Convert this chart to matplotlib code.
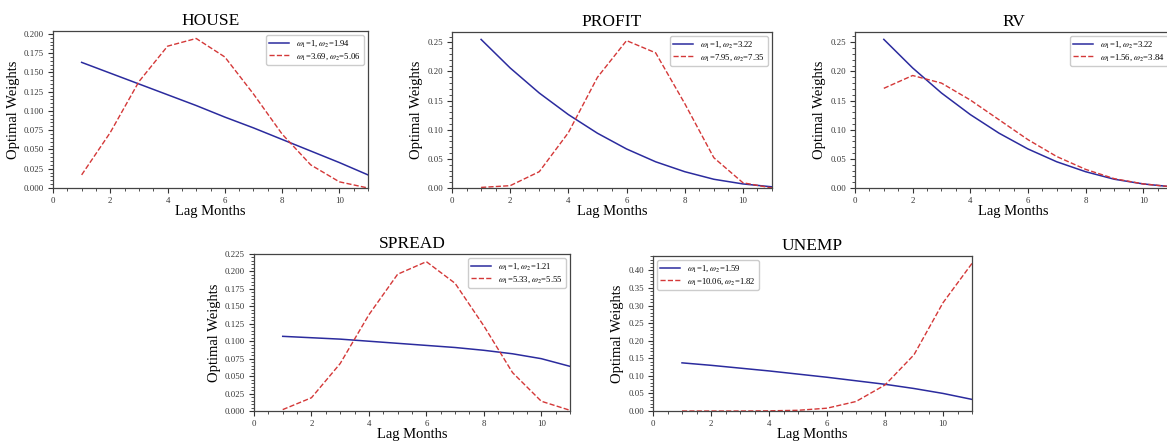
import numpy as np
import matplotlib
matplotlib.use("Agg")
import matplotlib.pyplot as plt
from matplotlib.ticker import AutoMinorLocator, MultipleLocator

plt.rcParams['font.family'] = ['Liberation Serif', 'DejaVu Serif']
plt.rcParams['mathtext.fontset'] = 'stix'

lags = [1, 2, 3, 4, 5, 6, 7, 8, 9, 10, 11]

titles = ["HOUSE", "PROFIT", "RV", "SPREAD", "UNEMP"]

house_restr = [0.163, 0.149, 0.135, 0.121, 0.107, 0.092, 0.078, 0.063, 0.048, 0.033, 0.017]
house_free = [0.017, 0.072, 0.138, 0.184, 0.194, 0.170, 0.122, 0.070, 0.030, 0.008, 0.000]

profit_restr = [0.255, 0.206, 0.163, 0.126, 0.094, 0.067, 0.045, 0.028, 0.015, 0.007, 0.002]
profit_free = [0.001, 0.004, 0.028, 0.095, 0.190, 0.253, 0.232, 0.145, 0.052, 0.009, 0.000]

rv_restr = [0.255, 0.206, 0.163, 0.126, 0.094, 0.067, 0.045, 0.028, 0.015, 0.007, 0.002]
rv_free = [0.171, 0.193, 0.180, 0.151, 0.117, 0.083, 0.054, 0.032, 0.016, 0.007, 0.002]

spread_restr = [0.107, 0.105, 0.103, 0.100, 0.097, 0.094, 0.091, 0.087, 0.082, 0.075, 0.064]
spread_free = [0.002, 0.019, 0.068, 0.138, 0.196, 0.214, 0.183, 0.122, 0.055, 0.014, 0.001]

unemp_restr = [0.137, 0.130, 0.122, 0.114, 0.105, 0.096, 0.086, 0.076, 0.064, 0.050, 0.033]
unemp_free = [0.000, 0.000, 0.000, 0.0005, 0.002, 0.008, 0.027, 0.074, 0.160, 0.308, 0.420]

labels_restr = [r"$\omega_1$=1, $\omega_2$=1.94", r"$\omega_1$=1, $\omega_2$=3.22",
                r"$\omega_1$=1, $\omega_2$=3.22", r"$\omega_1$=1, $\omega_2$=1.21",
                r"$\omega_1$=1, $\omega_2$=1.59"]
labels_free = [r"$\omega_1$=3.69, $\omega_2$=5.06", r"$\omega_1$=7.95, $\omega_2$=7.35",
               r"$\omega_1$=1.56, $\omega_2$=3.84", r"$\omega_1$=5.33, $\omega_2$=5.55",
               r"$\omega_1$=10.06, $\omega_2$=1.82"]

restr = [house_restr, profit_restr, rv_restr, spread_restr, unemp_restr]
free = [house_free, profit_free, rv_free, spread_free, unemp_free]
legend_loc = ["upper right", "upper right", "upper right", "upper right", "upper left"]
ytop = [None, None, None, 0.225, None]
ystep = [0.025, 0.05, 0.05, 0.025, 0.05]

W, H = 1167, 441
# axes boxes in pixels: left, top, right, bottom
boxes = [(53, 31, 368, 188), (452, 32, 772, 188), (855, 32, 1172, 188),
         (254, 254, 570, 411), (653, 256, 972, 411)]

fig = plt.figure(figsize=(W / 100, H / 100), dpi=100)

for i in range(5):
    l, t, r, b = boxes[i]
    ax = fig.add_axes([l / W, 1 - b / H, (r - l) / W, (b - t) / H])
    ax.plot(lags, restr[i], color="#2b2b9e", lw=1.1, label=labels_restr[i])
    ax.plot(lags, free[i], color="#d43838", lw=1.0, ls="--", label=labels_free[i])
    ax.set_xlim(0, 11)
    ax.set_ylim(bottom=0)
    if ytop[i] is not None:
        ax.set_ylim(0, ytop[i])
    ax.set_xticks([0, 2, 4, 6, 8, 10])
    ax.yaxis.set_major_locator(MultipleLocator(ystep[i]))
    ax.xaxis.set_minor_locator(AutoMinorLocator())
    ax.yaxis.set_minor_locator(AutoMinorLocator())
    ax.tick_params(which="major", labelsize=6.3, length=3.5, width=0.8, colors="#333333", pad=3)
    ax.tick_params(which="minor", length=2, width=0.6, colors="#333333")
    for s in ax.spines.values():
        s.set_linewidth(0.9)
        s.set_color("#444444")
    ax.set_title(titles[i], fontsize=12.5, pad=4)
    ax.set_xlabel("Lag Months", fontsize=10.5, labelpad=0)
    ax.set_ylabel("Optimal Weights", fontsize=10.5, labelpad=3)
    ax.legend(loc=legend_loc[i], fontsize=6.2, framealpha=1, edgecolor="#cccccc",
              handlelength=2.3, borderpad=0.35, labelspacing=0.3)

fig.savefig("out.png", dpi=100)
